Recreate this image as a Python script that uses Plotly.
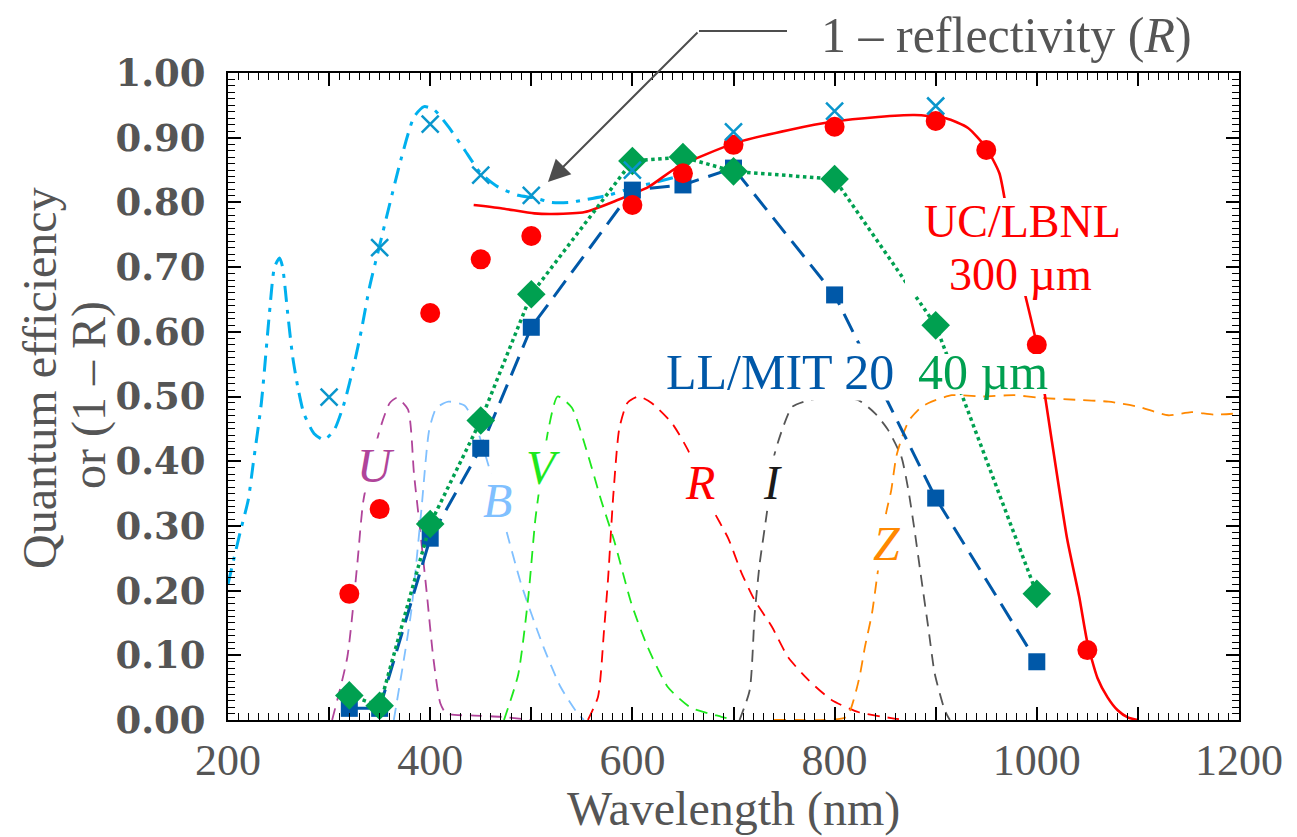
import plotly.graph_objects as go

# ---------------- data ----------------
# Filter transmission curves (scaled)
U_wl = [303, 318, 328, 334, 350, 360, 367, 378, 384, 390, 397, 403, 410, 416, 440, 470, 500]
U_qe = [0.0, 0.097, 0.243, 0.34, 0.448, 0.49, 0.498, 0.48, 0.38, 0.294, 0.19, 0.097, 0.026, 0.01, 0.007, 0.005, 0.0]

B_wl = [364, 381, 391, 399, 406, 418, 434, 445, 457, 474, 490, 512, 529, 545, 552]
B_qe = [0.0, 0.165, 0.32, 0.448, 0.482, 0.492, 0.486, 0.455, 0.397, 0.30, 0.21, 0.113, 0.051, 0.012, 0.0]

V_wl = [473, 487, 497, 504, 510, 517, 526, 540, 556, 569, 582, 599, 615, 635, 658, 688, 700]
V_qe = [0.0, 0.07, 0.19, 0.31, 0.38, 0.45, 0.50, 0.483, 0.41, 0.34, 0.277, 0.18, 0.113, 0.051, 0.019, 0.005, 0.0]

R_wl = [556, 566, 572, 576, 581, 587, 595, 606, 619, 639, 655, 678, 695, 708, 721, 738, 754, 774, 797, 824, 856, 870]
R_qe = [0.0, 0.036, 0.14, 0.22, 0.345, 0.45, 0.49, 0.5, 0.49, 0.459, 0.417, 0.33, 0.28, 0.227, 0.185, 0.144, 0.097, 0.062, 0.031, 0.012, 0.003, 0.0]

I_wl = [706, 716, 721, 726, 733, 740, 748, 758, 774, 800, 824, 840, 853, 866, 873, 879, 886, 893, 899, 909, 914]
I_qe = [0.0, 0.046, 0.165, 0.243, 0.32, 0.407, 0.448, 0.484, 0.494, 0.5, 0.494, 0.474, 0.448, 0.407, 0.355, 0.294, 0.216, 0.139, 0.072, 0.015, 0.0]

Z_wl = [740, 760, 790, 812, 824, 830, 837, 842, 851, 856, 861, 868, 874, 886, 896, 916, 946, 978, 1002, 1038, 1071, 1101, 1130, 1153, 1175, 1200]
Z_qe = [0.0, 0.0, 0.0, 0.005, 0.062, 0.113, 0.165, 0.221, 0.32, 0.355, 0.407, 0.443, 0.464, 0.484, 0.492, 0.502, 0.5, 0.502, 0.498, 0.495, 0.492, 0.484, 0.471, 0.476, 0.472, 0.474]

# 1 - reflectivity: model curve and measured points
refl_model_wl = [200, 212, 220, 225, 233, 241, 246, 251, 254, 259, 264, 269, 275, 285, 295, 305, 315, 325, 332, 340, 351, 371, 384, 394, 404, 418, 434, 450, 467, 487, 503, 520, 537, 553, 576, 599, 620, 640]
refl_model_qe = [0.21, 0.29, 0.34, 0.397, 0.49, 0.629, 0.70, 0.714, 0.70, 0.629, 0.561, 0.515, 0.474, 0.443, 0.433, 0.448, 0.49, 0.552, 0.603, 0.669, 0.74, 0.866, 0.932, 0.948, 0.943, 0.917, 0.881, 0.845, 0.824, 0.811, 0.807, 0.80, 0.80, 0.804, 0.811, 0.822, 0.83, 0.838]
refl_wl = [300, 350, 400, 450, 500, 600, 700, 800, 900]
refl_qe = [0.499, 0.73, 0.921, 0.842, 0.811, 0.85, 0.909, 0.941, 0.949]

# UC/LBNL 300 um: model curve and measured points
uc_model_wl = [443, 470, 503, 520, 553, 586, 616, 645, 702, 755, 799, 843, 879, 910, 932, 950, 963, 970, 985, 1000, 1015, 1030, 1042, 1050, 1060, 1070, 1080, 1090, 1100]
uc_model_qe = [0.796, 0.791, 0.783, 0.782, 0.785, 0.804, 0.824, 0.855, 0.892, 0.912, 0.925, 0.932, 0.935, 0.930, 0.915, 0.884, 0.845, 0.79, 0.68, 0.58, 0.43, 0.28, 0.19, 0.12, 0.065, 0.035, 0.015, 0.004, 0.0]
uc_wl = [320, 350, 400, 450, 500, 600, 650, 700, 800, 900, 950, 1000, 1050]
uc_qe = [0.195, 0.326, 0.629, 0.712, 0.748, 0.796, 0.845, 0.889, 0.917, 0.926, 0.881, 0.58, 0.108]

# LL/MIT 20 um and 40 um
ll_wl = [320, 350, 400, 450, 500, 600, 650, 700, 800, 900, 1000]
ll20_qe = [0.018, 0.018, 0.281, 0.42, 0.607, 0.819, 0.827, 0.853, 0.657, 0.343, 0.09]
ll40_qe = [0.038, 0.022, 0.303, 0.463, 0.658, 0.864, 0.87, 0.848, 0.836, 0.61, 0.195]

x_ticks = list(range(200, 1201, 100))
x_ticklabels = [str(v) if v % 200 == 0 else "" for v in x_ticks]
y_ticks = [round(0.1 * i, 1) for i in range(11)]
y_ticklabels = ["%.2f" % v for v in y_ticks]

# ---------------- colours ----------------
C_U = "#b0449a"
C_B = "#80c0ff"
C_V = "#1ee81e"
C_R = "#ff0000"
C_I = "#555555"
C_Z = "#ff8800"
C_REFL_LINE = "#00b0ee"
C_REFL_MK = "#0a96cc"
C_LL20 = "#0058a8"
C_LL40 = "#00a050"
GRAY = "#555555"
SERIF = "Liberation Serif"

# plot-area geometry (pixels in the page) used only to place labels
PX0, PX1, PY0, PY1 = 228, 1239, 73, 720
def px2x(p):
    return 200 + (p - PX0) / (PX1 - PX0) * 1000
def px2y(p):
    return (PY1 - p) / (PY1 - PY0)

fig = go.Figure()

filt_dash = "12px,8px"
for wl, qe, col in [(U_wl, U_qe, C_U), (B_wl, B_qe, C_B), (V_wl, V_qe, C_V),
                    (R_wl, R_qe, C_R), (I_wl, I_qe, C_I), (Z_wl, Z_qe, C_Z)]:
    fig.add_trace(go.Scatter(x=wl, y=qe, mode="lines",
                             line=dict(color=col, width=1.8, dash=filt_dash, shape="spline", smoothing=0.6),
                             showlegend=False, hoverinfo="skip"))

# 1 - R model
fig.add_trace(go.Scatter(x=refl_model_wl, y=refl_model_qe, mode="lines",
                         line=dict(color=C_REFL_LINE, width=3, dash="16px,8px,4px,8px", shape="spline", smoothing=0.6),
                         showlegend=False))
# UC/LBNL model
fig.add_trace(go.Scatter(x=uc_model_wl, y=uc_model_qe, mode="lines",
                         line=dict(color=C_R, width=2.6, shape="spline", smoothing=0.6),
                         showlegend=False))
# LL/MIT 20
fig.add_trace(go.Scatter(x=ll_wl, y=ll20_qe, mode="lines+markers",
                         line=dict(color=C_LL20, width=3, dash="20px,10px"),
                         marker=dict(symbol="square", size=17, color=C_LL20),
                         showlegend=False))
# LL/MIT 40
fig.add_trace(go.Scatter(x=ll_wl, y=ll40_qe, mode="lines+markers",
                         line=dict(color=C_LL40, width=3.5, dash="dot"),
                         marker=dict(symbol="diamond", size=22, color=C_LL40),
                         showlegend=False))
# UC/LBNL measured
fig.add_trace(go.Scatter(x=uc_wl, y=uc_qe, mode="markers",
                         marker=dict(symbol="circle", size=20, color=C_R),
                         showlegend=False))
# 1-R measured
fig.add_trace(go.Scatter(x=refl_wl, y=refl_qe, mode="markers",
                         marker=dict(symbol="x-thin", size=17, color=C_REFL_MK,
                                     line=dict(color=C_REFL_MK, width=2.5)),
                         showlegend=False))

# ---------------- annotations ----------------
ann = []
def lab(text, cx, cy, color, size=48, italic=False, bg=True):
    t = "<i>%s</i>" % text if italic else text
    ann.append(dict(text=t, x=px2x(cx), y=px2y(cy), xref="x", yref="y", showarrow=False,
                    font=dict(family=SERIF, size=size, color=color),
                    bgcolor="white" if bg else None, borderpad=0,
                    xanchor="center", yanchor="middle"))

lab("U", 376, 465, C_U, italic=True)
lab("B", 497, 500, C_B, italic=True)
lab("V", 543, 467, C_V, italic=True)
lab("R", 700, 482, C_R, italic=True)
lab("I", 772, 482, "#1a1a1a", italic=True)
lab("Z", 887, 543, C_Z, italic=True)
lab("UC/LBNL", 1022, 221, C_R, size=46, bg=False)
lab("300 µm", 1020, 274, C_R, size=46, bg=False)
lab("LL/MIT 20", 780, 372, C_LL20, size=50)
lab("40 µm", 983, 372, C_LL40, size=50, bg=False)

# white backing behind the labels that sit on lines (drawn above traces, below text)
def white_box(x0p, x1p, y0p, y1p):
    return dict(type="rect", xref="x", yref="y", layer="above",
                x0=px2x(x0p), x1=px2x(x1p), y0=px2y(y1p), y1=px2y(y0p),
                fillcolor="white", line=dict(width=0))

shapes = [white_box(905, 1140, 198, 296), white_box(918, 1050, 354, 394)]

# arrow from label to curve
ann.append(dict(x=px2x(548), y=px2y(182), xref="x", yref="y", ax=151, ay=-151,
                axref="pixel", ayref="pixel", text="", showarrow=True,
                arrowhead=2, arrowsize=2.2, arrowwidth=2, arrowcolor="#4d4d4d"))
ann.append(dict(text="1 – reflectivity (<i>R</i>)", x=(819 - PX0) / (PX1 - PX0), y=px2y(35),
                xref="paper", yref="paper", showarrow=False, xanchor="left", yanchor="middle",
                font=dict(family=SERIF, size=50, color=GRAY)))
shapes.append(dict(type="line", xref="paper", yref="paper",
                   x0=(699 - PX0) / (PX1 - PX0), x1=(787 - PX0) / (PX1 - PX0),
                   y0=px2y(31), y1=px2y(31), line=dict(color="#4d4d4d", width=2)))

# axis titles (two rotated lines)
ann.append(dict(text="Quantum efficiency", x=(39 - PX0) / (PX1 - PX0), y=px2y(378),
                xref="paper", yref="paper", showarrow=False, textangle=-90,
                xanchor="center", yanchor="middle",
                font=dict(family=SERIF, size=48, color=GRAY)))
ann.append(dict(text="or (1 – R)", x=(89 - PX0) / (PX1 - PX0), y=px2y(395),
                xref="paper", yref="paper", showarrow=False, textangle=-90,
                xanchor="center", yanchor="middle",
                font=dict(family=SERIF, size=48, color=GRAY)))
ann.append(dict(text="Wavelength (nm)", x=0.5, y=px2y(809),
                xref="paper", yref="paper", showarrow=False,
                xanchor="center", yanchor="middle",
                font=dict(family=SERIF, size=48, color=GRAY)))

# page body has an 8px margin: size the figure so that plot area lands at 228..1239, 73..720
fig.update_layout(
    width=1289, height=829,
    margin=dict(l=220, r=58, t=65, b=117),
    paper_bgcolor="white", plot_bgcolor="white",
    annotations=ann, shapes=shapes, showlegend=False,
    xaxis=dict(range=[200, 1200], tickmode="array", tickvals=x_ticks, ticktext=x_ticklabels,
               ticks="inside", ticklen=13, tickwidth=1.5, tickcolor="black",
               showline=True, linecolor="black", linewidth=2, mirror="allticks",
               showgrid=False, zeroline=False,
               tickfont=dict(family=SERIF, size=44, color=GRAY), ticklabelstandoff=0,
               minor=dict(dtick=10, ticks="inside", ticklen=7, tickwidth=1.2, tickcolor="black", showgrid=False)),
    yaxis=dict(range=[0, 1], tickmode="array", tickvals=y_ticks, ticktext=y_ticklabels,
               ticks="inside", ticklen=13, tickwidth=1.5, tickcolor="black",
               showline=True, linecolor="black", linewidth=2, mirror="allticks",
               showgrid=False, zeroline=False,
               tickfont=dict(family="DejaVu Serif", size=37, color=GRAY, weight="bold"), ticklabelstandoff=13,
               minor=dict(dtick=0.01, ticks="inside", ticklen=7, tickwidth=1.2, tickcolor="black", showgrid=False)),
)

fig.write_html("out.html")
